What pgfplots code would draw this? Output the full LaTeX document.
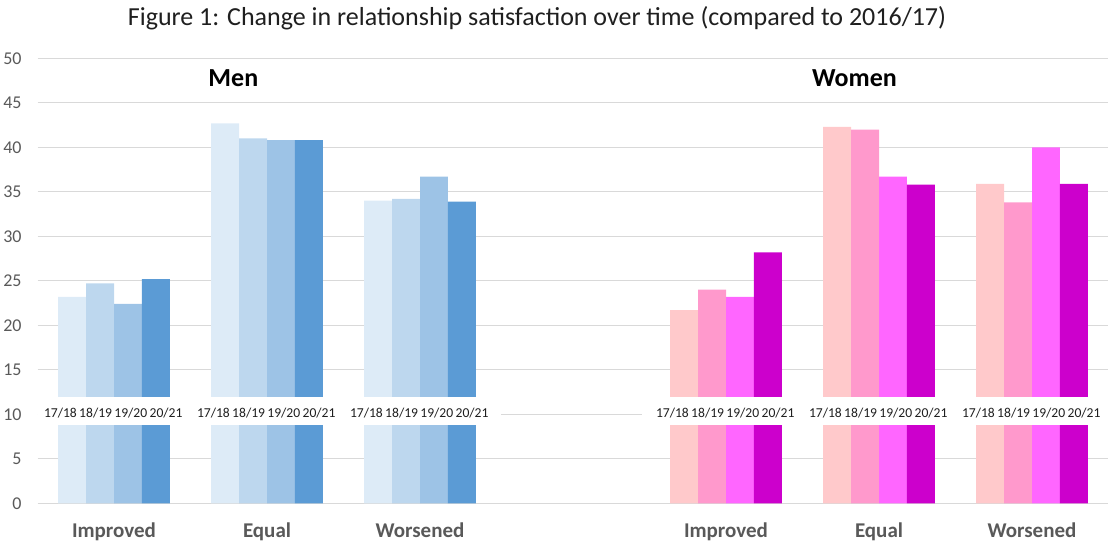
\documentclass[border=0pt]{standalone}
\usepackage{pgfplots}
\pgfplotsset{compat=1.18}
\usepackage{fontspec}
\setmainfont{Carlito}
\definecolor{mA}{HTML}{DDEBF7}
\definecolor{mB}{HTML}{BDD7EE}
\definecolor{mC}{HTML}{9DC3E6}
\definecolor{mD}{HTML}{5B9BD5}
\definecolor{wA}{HTML}{FFC9CB}
\definecolor{wB}{HTML}{FF99CC}
\definecolor{wC}{HTML}{FF66FF}
\definecolor{wD}{HTML}{CC00CC}
\definecolor{gridgray}{HTML}{D9D9D9}
\definecolor{txtgray}{HTML}{595959}
\definecolor{darktxt}{HTML}{1F1F1F}
\begin{document}
\begin{tikzpicture}
\useasboundingbox (-18.75pt,-18.85pt) rectangle (535.25pt,251.65pt);
\begin{axis}[
  at={(0,0)}, anchor=south west,
  scale only axis, width=535.5pt, height=222.5pt,
  xmin=-0.5, xmax=6.5, ymin=0, ymax=50,
  xtick={0,1,2,4,5,6},
  xticklabels={Improved,Equal,Worsened,Improved,Equal,Worsened},
  ytick={0,5,...,50},
  ymajorgrids, major grid style={draw=gridgray, line width=0.6pt},
  axis line style={draw=none},
  major tick length=0pt,
  /pgf/number format/assume math mode=true,
  xticklabel style={font=\fontsize{10.5}{12}\selectfont\bfseries, text=txtgray, anchor=base, yshift=-16.85pt},
  yticklabel style={font=\fontsize{9}{10}\selectfont, text=txtgray, anchor=east, inner sep=0pt, xshift=-7.75pt},
]
% Men
\addplot[ybar, bar width=0.1825, bar shift=-0.27375, fill=mA, draw=none] coordinates {(0,23.2) (1,42.7) (2,34.0)};
\addplot[ybar, bar width=0.1825, bar shift=-0.09125, fill=mB, draw=none] coordinates {(0,24.7) (1,41.0) (2,34.2)};
\addplot[ybar, bar width=0.1825, bar shift=0.09125, fill=mC, draw=none] coordinates {(0,22.4) (1,40.8) (2,36.7)};
\addplot[ybar, bar width=0.1825, bar shift=0.27375, fill=mD, draw=none] coordinates {(0,25.2) (1,40.8) (2,33.9)};
% Women
\addplot[ybar, bar width=0.1825, bar shift=-0.27375, fill=wA, draw=none] coordinates {(4,21.7) (5,42.3) (6,35.9)};
\addplot[ybar, bar width=0.1825, bar shift=-0.09125, fill=wB, draw=none] coordinates {(4,24.0) (5,42.0) (6,33.8)};
\addplot[ybar, bar width=0.1825, bar shift=0.09125, fill=wC, draw=none] coordinates {(4,23.2) (5,36.7) (6,40.0)};
\addplot[ybar, bar width=0.1825, bar shift=0.27375, fill=wD, draw=none] coordinates {(4,28.2) (5,35.8) (6,35.9)};
% white label bands
\fill[white] (axis cs:-0.5,8.85) rectangle (axis cs:2.53,11.9);
\fill[white] (axis cs:3.45,8.85) rectangle (axis cs:6.5,11.9);
% year labels
\addplot[only marks, mark=none, point meta=explicit symbolic, nodes near coords,
  every node near coord/.append style={anchor=center, font=\fontsize{6.8}{8}\selectfont, text=darktxt, inner sep=0pt}]
  coordinates {
  (-0.35,10.1) [17/18] (-0.12,10.1) [18/19] (0.11,10.1) [19/20] (0.34,10.1) [20/21]
  (0.65,10.1) [17/18] (0.88,10.1) [18/19] (1.11,10.1) [19/20] (1.34,10.1) [20/21]
  (1.65,10.1) [17/18] (1.88,10.1) [18/19] (2.11,10.1) [19/20] (2.34,10.1) [20/21]
  (3.65,10.1) [17/18] (3.88,10.1) [18/19] (4.11,10.1) [19/20] (4.34,10.1) [20/21]
  (4.65,10.1) [17/18] (4.88,10.1) [18/19] (5.11,10.1) [19/20] (5.34,10.1) [20/21]
  (5.65,10.1) [17/18] (5.88,10.1) [18/19] (6.11,10.1) [19/20] (6.34,10.1) [20/21]
  };
\node[anchor=base, font=\fontsize{13}{15}\selectfont\bfseries] at (axis cs:0.78,46.8) {Men};
\node[anchor=base, font=\fontsize{13}{15}\selectfont\bfseries] at (axis cs:4.84,46.8) {Women};
\end{axis}
\node[anchor=base, font=\fontsize{13}{15}\selectfont, text=darktxt] at (249.75pt,238.65pt) {Figure 1: Change in relationship satisfaction over time (compared to 2016/17)};
\end{tikzpicture}
\end{document}
